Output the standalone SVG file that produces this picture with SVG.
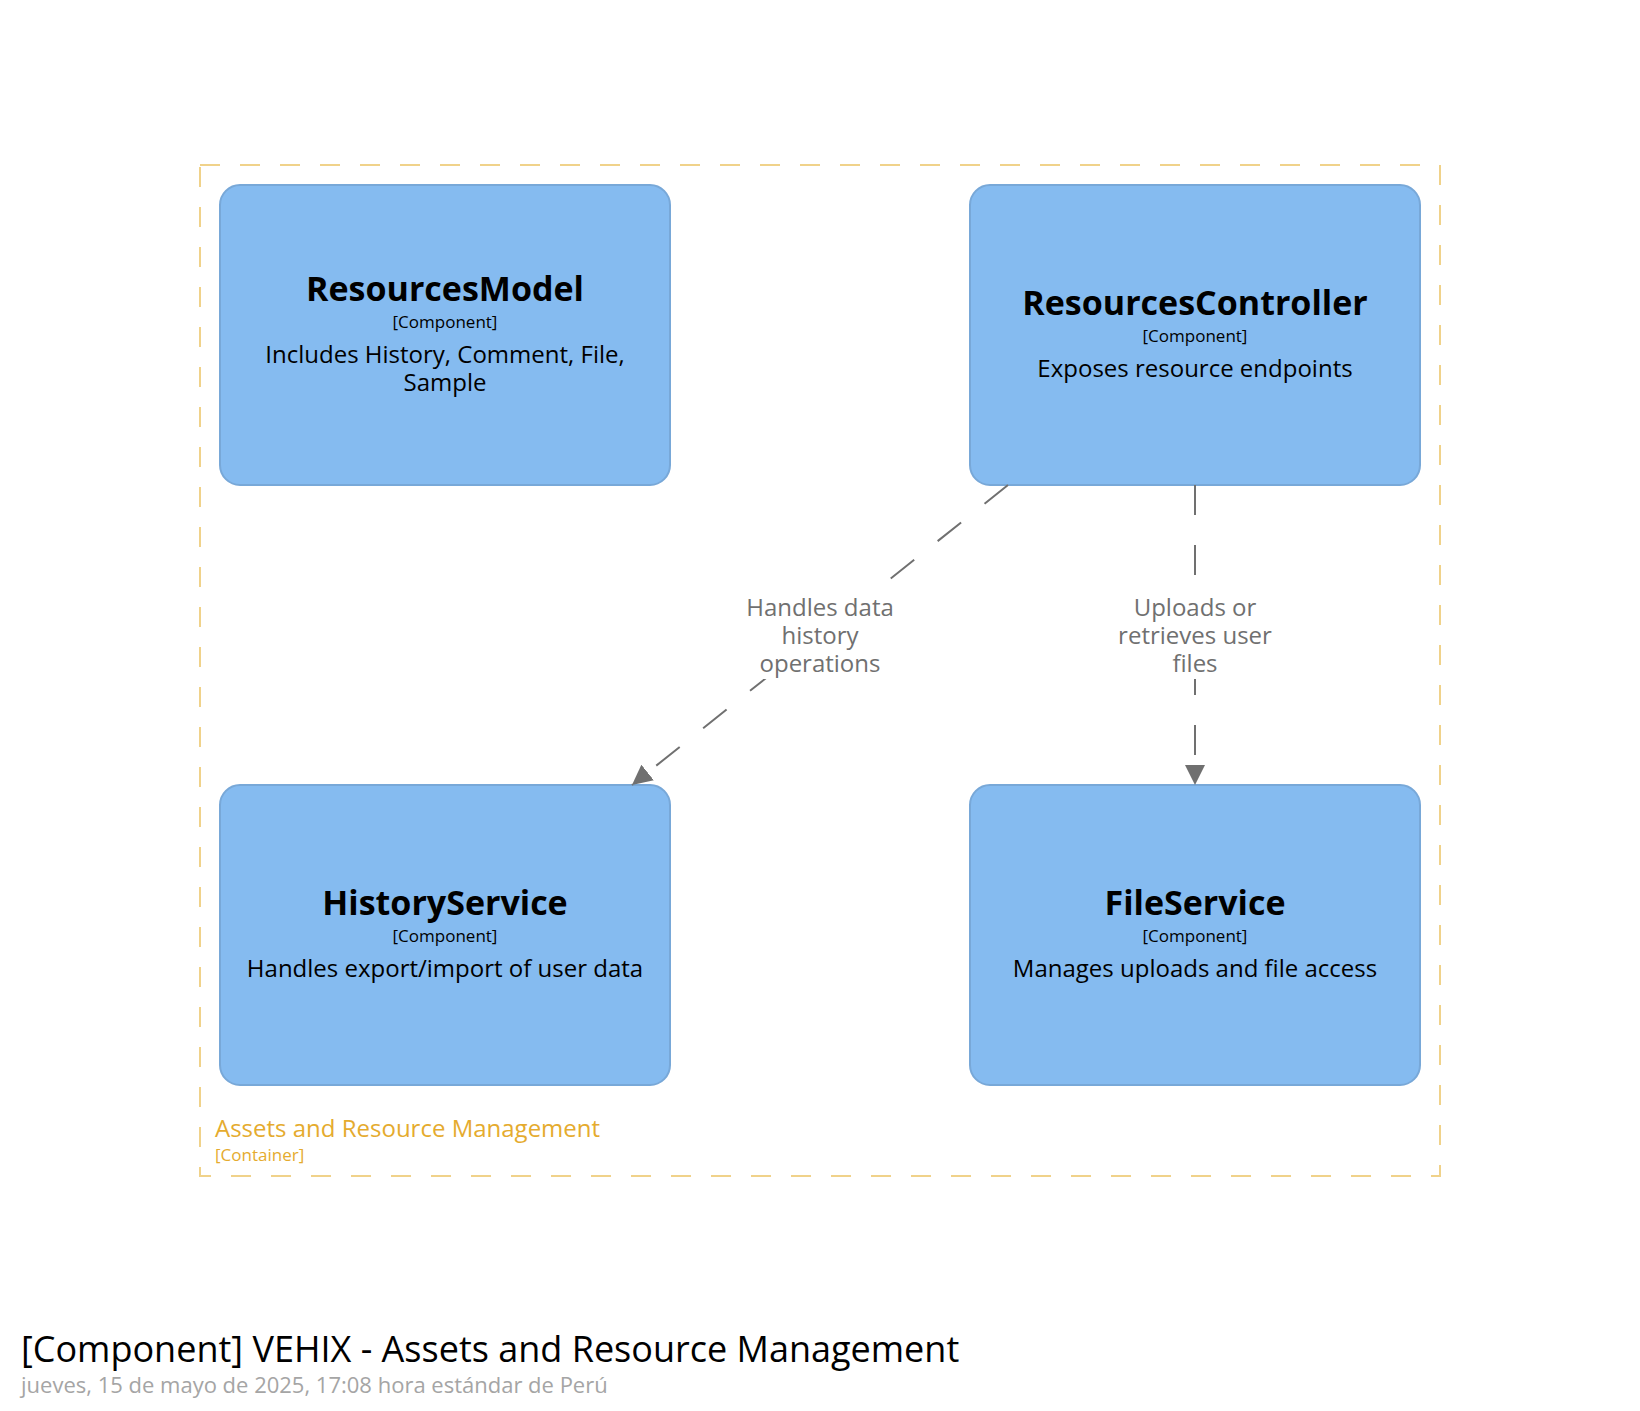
<svg xmlns="http://www.w3.org/2000/svg" width="1640" height="1411" viewBox="0 0 1640 1411">
<style>
text { font-family: "Open Sans", "Liberation Sans", sans-serif; }
.node rect { fill: #85bbf0; stroke: #78a8d8; stroke-width: 2; }
.name { font-size: 34px; font-weight: bold; fill: #000; text-anchor: middle; }
.meta { font-size: 17px; fill: #000; text-anchor: middle; }
.desc { font-size: 24px; fill: #000; text-anchor: middle; }
.edge { fill: none; stroke: #707070; stroke-width: 2; stroke-dasharray: 30 30; }
.lbl { font-size: 24px; fill: #707070; text-anchor: middle; }
.lblbg { fill: #ffffff; }
.bnd { fill: none; stroke: #f0d28a; stroke-width: 2; stroke-dasharray: 20 20; }
</style>
<defs>
<marker id="arrow" viewBox="0 0 20 20" refX="20" refY="10" markerWidth="20" markerHeight="20" markerUnits="userSpaceOnUse" orient="auto">
<path d="M0,0 L20,10 L0,20 Z" fill="#707070"/>
</marker>
</defs>
<rect x="0" y="0" width="1640" height="1411" fill="#ffffff"/>

<g id="boundary">
<rect class="bnd" x="200" y="165" width="1240" height="1011"/>
<text x="215" y="1137" font-size="24" fill="#e5ab2e">Assets and Resource Management</text>
<text x="215" y="1161" font-size="17" fill="#e5ab2e">[Container]</text>
</g>

<g id="node-resourcesmodel" class="node">
<rect x="220" y="185" width="450" height="300" rx="20" ry="20"/>
<text class="name" x="445" y="301">ResourcesModel</text>
<text class="meta" x="445" y="328">[Component]</text>
<text class="desc" x="445" y="363">Includes History, Comment, File,</text>
<text class="desc" x="445" y="391">Sample</text>
</g>

<g id="node-resourcescontroller" class="node">
<rect x="970" y="185" width="450" height="300" rx="20" ry="20"/>
<text class="name" x="1195" y="315">ResourcesController</text>
<text class="meta" x="1195" y="342">[Component]</text>
<text class="desc" x="1195" y="377">Exposes resource endpoints</text>
</g>

<g id="node-historyservice" class="node">
<rect x="220" y="785" width="450" height="300" rx="20" ry="20"/>
<text class="name" x="445" y="915">HistoryService</text>
<text class="meta" x="445" y="942">[Component]</text>
<text class="desc" x="445" y="977">Handles export/import of user data</text>
</g>

<g id="node-fileservice" class="node">
<rect x="970" y="785" width="450" height="300" rx="20" ry="20"/>
<text class="name" x="1195" y="915">FileService</text>
<text class="meta" x="1195" y="942">[Component]</text>
<text class="desc" x="1195" y="977">Manages uploads and file access</text>
</g>

<g id="connectors">
<path class="edge" d="M1008,485 L632,785" marker-end="url(#arrow)"/>
<rect class="lblbg" x="740" y="590" width="162" height="89"/>
<text class="lbl" x="820" y="616">Handles data</text>
<text class="lbl" x="820" y="644">history</text>
<text class="lbl" x="820" y="672">operations</text>

<path class="edge" d="M1195,485 L1195,785" marker-end="url(#arrow)"/>
<rect class="lblbg" x="1110" y="590" width="170" height="89"/>
<text class="lbl" x="1195" y="616">Uploads or</text>
<text class="lbl" x="1195" y="644">retrieves user</text>
<text class="lbl" x="1195" y="672">files</text>
</g>

<g id="title">
<text x="21" y="1362" font-size="36" fill="#000">[Component] VEHIX - Assets and Resource Management</text>
<text x="21" y="1393" font-size="22" fill="#a5a5a5">jueves, 15 de mayo de 2025, 17:08 hora estándar de Perú</text>
</g>
</svg>
